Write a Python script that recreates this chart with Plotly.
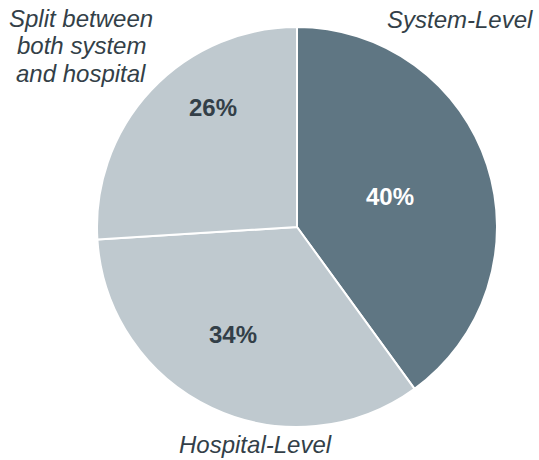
import math
import plotly.graph_objects as go

# Share of responses by where the function sits
categories = ["System-Level", "Hospital-Level", "Split between both system and hospital"]
shares = [40, 34, 26]
label_lines = [["System-Level"], ["Hospital-Level"], ["Split between", "both system", "and hospital"]]

W, H = 539, 460
CX, CY, R = 297, 227, 200

slice_colors = ["#5f7683", "#bfc9cf", "#bfc9cf"]
pct_colors = ["#ffffff", "#333f48", "#333f48"]
text_color = "#333f48"
FONT = "Liberation Sans, Arial, sans-serif"

# where each percentage sits: (angle from 12 o'clock clockwise, fraction of radius)
pct_anchor = [(72, 0.49), (211, 0.625), (325, 0.73)]
# outside category labels: centre x and first-line centre y, in pixels
outer_anchor = [(460, 19.5), (255, 444), (81, 18.5)]
LINE_GAP = 27.5

fig = go.Figure(
    go.Pie(
        labels=categories,
        values=shares,
        sort=False,
        direction="clockwise",
        rotation=0,
        textinfo="none",
        hoverinfo="label+percent",
        marker=dict(colors=slice_colors, line=dict(color="#ffffff", width=2)),
        domain=dict(x=[(CX - R) / W, (CX + R) / W], y=[1 - (CY + R) / H, 1 - (CY - R) / H]),
        showlegend=False,
    )
)

annotations = []
for val, (ang, frac), col in zip(shares, pct_anchor, pct_colors):
    a = math.radians(ang)
    px = CX + frac * R * math.sin(a)
    py = CY - frac * R * math.cos(a)
    annotations.append(dict(
        x=px / W, y=1 - py / H, xref="paper", yref="paper",
        text=f"<b>{val}%</b>", showarrow=False,
        font=dict(family=FONT, size=24, color=col),
        xanchor="center", yanchor="middle",
    ))

for lines, (px, py) in zip(label_lines, outer_anchor):
    for i, line in enumerate(lines):
        annotations.append(dict(
            x=px / W, y=1 - (py + i * LINE_GAP) / H, xref="paper", yref="paper",
            text=f"<i>{line}</i>", showarrow=False,
            font=dict(family=FONT, size=24, color=text_color),
            xanchor="center", yanchor="middle",
        ))

fig.update_layout(
    width=W, height=H,
    margin=dict(l=0, r=0, t=0, b=0),
    paper_bgcolor="#ffffff",
    plot_bgcolor="#ffffff",
    annotations=annotations,
)

fig.write_html("out.html")
